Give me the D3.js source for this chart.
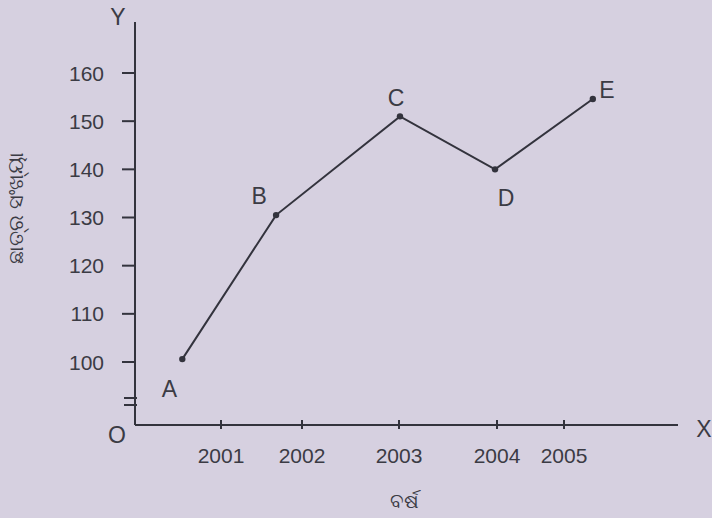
<!DOCTYPE html>
<html lang="or">
<head>
<meta charset="utf-8">
<title>Line graph</title>
<script src="https://d3js.org/d3.v7.min.js"></script>
<style>
  html, body { margin: 0; padding: 0; background: #d6d0e0; }
  svg { display: block; }
  text { font-family: "Liberation Sans", Arial, sans-serif; fill: #3b3b44; }
</style>
</head>
<body>
<div id="chart"></div>
<script>
// data
const yearTicks = [2001, 2002, 2003, 2004, 2005];
const valueTicks = [100, 110, 120, 130, 140, 150, 160];
const pointNames = ["A", "B", "C", "D", "E"];
const pointYears = [2000.55, 2001.68, 2003.01, 2003.98, 2005.43];
const pointValues = [100.6, 130.5, 151, 140, 154.6];
const yLabel = "ଛାତ୍ର ସଂଖ୍ୟା";
const xLabel = "ବର୍ଷ";

const width = 712, height = 518;
const originX = 135, originY = 425;
const ink = "#33333d";

const svg = d3.select("#chart").append("svg")
    .attr("width", width)
    .attr("height", height);

// the printed x axis is not evenly spaced, so the scale is piecewise
const x = d3.scaleLinear()
    .domain([2000, 2001, 2002, 2003, 2004, 2005, 2006])
    .range([originX, 221, 302, 399, 497, 564, 631]);

const y = d3.scaleLinear()
    .domain([100, 160])
    .range([362, 73]);

// axes lines
svg.append("line")
    .attr("x1", originX).attr("x2", originX)
    .attr("y1", 22).attr("y2", originY)
    .attr("stroke", ink).attr("stroke-width", 2);
svg.append("line")
    .attr("x1", originX).attr("x2", 678)
    .attr("y1", originY).attr("y2", originY)
    .attr("stroke", ink).attr("stroke-width", 2);

// y ticks + labels
svg.selectAll(".ytick")
  .data(valueTicks)
  .join("line")
    .attr("x1", originX - 13).attr("x2", originX)
    .attr("y1", d => y(d)).attr("y2", d => y(d))
    .attr("stroke", ink).attr("stroke-width", 2);
svg.selectAll(".ylab")
  .data(valueTicks)
  .join("text")
    .attr("x", 104)
    .attr("y", d => y(d))
    .attr("dy", "0.36em")
    .attr("text-anchor", "end")
    .style("font-size", "21px")
    .text(d => d);

// axis break marks
[0, 7].forEach(off => {
  svg.append("line")
    .attr("x1", originX - 11).attr("x2", originX + 2)
    .attr("y1", 398 + off).attr("y2", 398 + off)
    .attr("stroke", ink).attr("stroke-width", 2);
});

// x ticks + labels
svg.selectAll(".xtick")
  .data(yearTicks)
  .join("line")
    .attr("x1", d => x(d)).attr("x2", d => x(d))
    .attr("y1", originY - 5).attr("y2", originY + 4)
    .attr("stroke", ink).attr("stroke-width", 2);
svg.selectAll(".xlab")
  .data(yearTicks)
  .join("text")
    .attr("x", d => x(d))
    .attr("y", 463)
    .attr("text-anchor", "middle")
    .style("font-size", "21px")
    .text(d => d);

// axis letters
svg.append("text").attr("x", 118).attr("y", 25).attr("text-anchor", "middle")
    .style("font-size", "23px").text("Y");
svg.append("text").attr("x", 704).attr("y", 437).attr("text-anchor", "middle")
    .style("font-size", "23px").text("X");
svg.append("text").attr("x", 117).attr("y", 443).attr("text-anchor", "middle")
    .style("font-size", "23px").text("O");

// axis titles
svg.append("text")
    .attr("transform", "translate(23,208) rotate(-90)")
    .attr("text-anchor", "middle")
    .style("font-family", "'Noto Sans', sans-serif")
    .style("font-size", "21px")
    .text(yLabel);
svg.append("text")
    .attr("x", 404).attr("y", 508)
    .attr("text-anchor", "middle")
    .style("font-family", "'Noto Sans', sans-serif")
    .style("font-size", "20px")
    .text(xLabel);

// the line
const pts = pointNames.map((n, i) => ({ name: n, year: pointYears[i], value: pointValues[i] }));
svg.append("path")
    .datum(pts)
    .attr("fill", "none")
    .attr("stroke", ink)
    .attr("stroke-width", 2)
    .attr("d", d3.line().x(d => x(d.year)).y(d => y(d.value)));

svg.selectAll(".pt")
  .data(pts)
  .join("circle")
    .attr("cx", d => x(d.year))
    .attr("cy", d => y(d.value))
    .attr("r", 3.2)
    .attr("fill", ink);

// point letters (offsets follow the printed placement)
const labelOffsets = { A: [-13, 30], B: [-17, -19], C: [-4, -19], D: [11, 28], E: [14, -9] };
svg.selectAll(".ptlab")
  .data(pts)
  .join("text")
    .attr("x", d => x(d.year) + labelOffsets[d.name][0])
    .attr("y", d => y(d.value) + labelOffsets[d.name][1])
    .attr("dy", "0.36em")
    .attr("text-anchor", "middle")
    .style("font-size", "23px")
    .text(d => d.name);
</script>
</body>
</html>
